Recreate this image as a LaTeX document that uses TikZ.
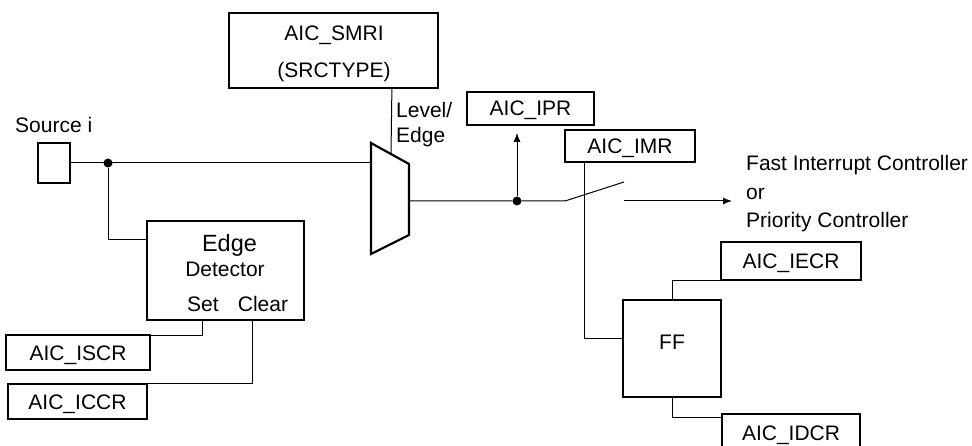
\documentclass[tikz,border=0pt]{standalone}
\usepackage{fontspec}
\setmainfont{Liberation Sans}
\usetikzlibrary{arrows.meta,calc}
\begin{document}
\begin{tikzpicture}[x=1pt,y=-1pt,
  box/.style={draw,line width=1.8pt,inner sep=0pt,text height=15pt,text depth=0pt,font=\fontsize{21}{25}\selectfont},
  wire/.style={line width=1pt},
  txt/.style={inner sep=0pt,font=\fontsize{21}{25}\selectfont,anchor=base},
  txtl/.style={txt,anchor=base west},
  jdot/.style={circle,fill,inner sep=0pt,minimum size=9pt},
  tip/.style={-{Latex[length=9pt,width=7pt]}}]
\useasboundingbox (0,0) rectangle (972,446);

% boxes
\node[box,minimum width=209pt,minimum height=75pt] (smri) at (333.5,50.5) {};
\node[box,minimum width=32pt,minimum height=40pt] (src) at (54,163) {};
\node[box,minimum width=157pt,minimum height=99pt] (edge) at (225.5,270.5) {};
\node[box,minimum width=127pt,minimum height=33pt] (ipr) at (530.5,108.5) {AIC\_IPR};
\node[box,minimum width=130pt,minimum height=32pt] (imr) at (630,146) {AIC\_IMR};
\node[box,minimum width=144pt,minimum height=35pt] (iscr) at (78,352.5) {AIC\_ISCR};
\node[box,minimum width=139pt,minimum height=35pt] (iccr) at (77.5,401.5) {AIC\_ICCR};
\node[box,minimum width=140pt,minimum height=38pt] (iecr) at (791,261) {AIC\_IECR};
\node[box,minimum width=138pt,minimum height=38pt] (idcr) at (791,433) {AIC\_IDCR};
\node[box,minimum width=98pt,minimum height=97pt] (ff) at (672,348.5) {};

% texts
\node[txt] (smri1) at (334,40.5) {AIC\_SMRI};
\node[txt] (smri2) at (334,77.5) {(SRCTYPE)};
\node[txtl] (srclbl) at (15,132.5) {Source i};
\node[txtl] (lvl1) at (396,117.5) {Level/};
\node[txtl] (lvl2) at (396,142.5) {Edge};
\node[txt,font=\fontsize{23.5}{28}\selectfont] (edg1) at (229.5,251.5) {Edge};
\node[txt] (edg2) at (225,277) {Detector};
\node[txt] (setlbl) at (203,312) {Set};
\node[txt] (clrlbl) at (263,312) {Clear};
\node[txt] (fflbl) at (672,349) {FF};
\node[txtl] (out1) at (746,171) {Fast Interrupt Controller};
\node[txtl] (out2) at (746,200) {or};
\node[txtl] (out3) at (746,228) {Priority Controller};

% multiplexer
\coordinate (mtl) at (371,143);
\coordinate (mtr) at (409,164);
\coordinate (mbr) at (409,235);
\coordinate (mbl) at (371,254);
\draw[line width=2.2pt,line join=miter] (mtl) -- (mtr) -- (mbr) -- (mbl) -- cycle;
\coordinate (muxin) at (371,163);
\coordinate (muxout) at (409,201);
\coordinate (muxsel) at (391,154);

% junctions and switch
\node[jdot] (j1) at (108,163) {};
\node[jdot] (j2) at (517,201) {};
\coordinate (sw1) at (565,201);
\coordinate (sw2) at (624,182);
\coordinate (sw3) at (624,201);
\coordinate (outend) at (732,201);

% connectors
\draw[wire] (src.east |- muxin) -- (muxin);
\draw[wire] (j1) |- ($(edge.north west)+(0,19)$);
\draw[wire] ($(smri.south east)+(-47,0)$) -- (muxsel);
\draw[wire] (muxout) -- (j2) -- (sw1) -- (sw2);
\draw[wire,tip] (sw3) -- (outend);
\draw[wire,tip] (j2) -- ($(ipr.south -| j2)+(0,7)$);
\draw[wire] ($(imr.south west)+(20,0)$) |- ($(ff.north west)+(0,39)$);
\draw[wire] ($(edge.south west)+(56,0)$) |- ($(iscr.north east)+(0,1)$);
\draw[wire] ($(edge.south west)+(106,0)$) |- (iccr.north east);
\draw[wire] (ff.north) |- (iecr.south west);
\draw[wire] (ff.south) |- ($(idcr.north west)+(0,4)$);
\end{tikzpicture}
\end{document}
